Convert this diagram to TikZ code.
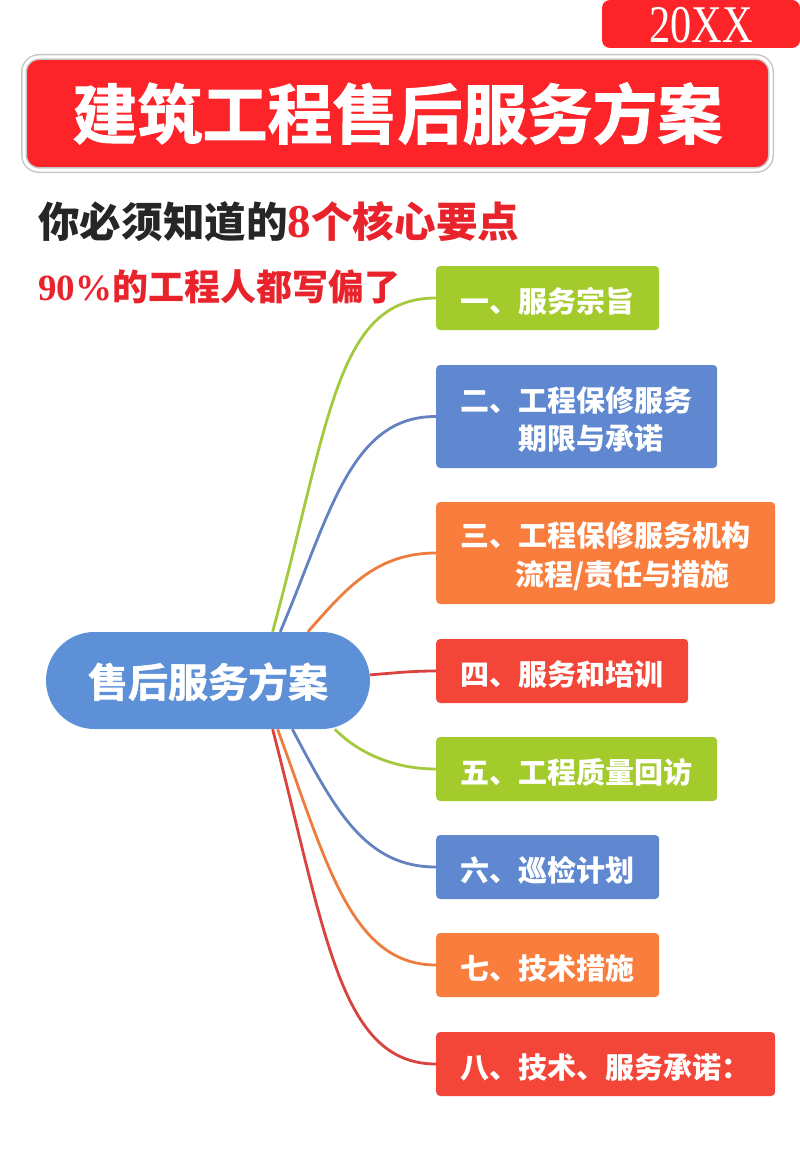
\documentclass[tikz,border=0pt]{standalone}
\usepackage{fontspec}
\setmainfont{Liberation Serif}
\newfontfamily\cjk{Noto Sans CJK SC}
\newfontfamily\cjkfat[FakeBold=1.5]{Noto Sans CJK SC Bold}
\definecolor{titlered}{HTML}{FC2428}
\definecolor{textred}{HTML}{E8232B}
\definecolor{hubblue}{HTML}{5E90D8}
\definecolor{boxgreen}{HTML}{A2CB2B}
\definecolor{boxblue}{HTML}{5F88D0}
\definecolor{boxorange}{HTML}{F97E3E}
\definecolor{boxred}{HTML}{F44638}
\definecolor{linegreen}{HTML}{A5C93D}
\definecolor{lineblue}{HTML}{6482C0}
\definecolor{lineorange}{HTML}{ED7D3C}
\definecolor{linered}{HTML}{D9423E}
\tikzset{
  itembox/.style={rectangle, rounded corners=4pt, anchor=west, inner xsep=24pt, inner ysep=0pt,
    align=left, text=white, font=\cjk\bfseries\fontsize{29}{38.5}\selectfont,
    execute at begin node=\rule{0pt}{31pt}},
  branch/.style={line width=2.8pt}
}
\begin{document}
\begin{tikzpicture}[x=1pt,y=-1pt]
	\useasboundingbox (0,0) rectangle (800,1156);
	% header
	\node[fill=titlered, rounded corners=8pt, minimum width=198pt, minimum height=48pt, inner sep=0pt] (tag) at (701,24) {};
	\node[text=white, xscale=0.8, transform shape, font=\fontsize{53}{53}\selectfont, inner sep=0pt] (year) at (701,25) {20XX};
	\node[fill=titlered, draw=black!22, line width=1.5pt, double=white, double distance=3pt, rounded corners=15pt,
		minimum width=747pt, minimum height=113pt, inner sep=0pt, text=white, font=\cjkfat\fontsize{65}{65}\selectfont] (title) at (397.5,113.5) {建筑工程售后服务方案};
	\node[anchor=west, inner sep=0pt, font=\cjk\bfseries\fontsize{41.6}{42}\selectfont] (sub) at (38,222)
		{\textcolor{black!85}{你必须知道的}\textcolor{textred}{{\rmfamily\bfseries\fontsize{47}{47}\selectfont 8}个核心要点}};
	\node[anchor=west, inner sep=0pt, text=textred, font=\cjk\bfseries\fontsize{36}{36}\selectfont] (warn) at (38,287)
		{{\rmfamily\bfseries\fontsize{37}{37}\selectfont 90\%}的工程人都写偏了};
	% centre and items
	\node[fill=hubblue, rounded corners=48.5pt, minimum width=324pt, minimum height=97pt, inner sep=0pt, text=white,
		font=\cjkfat\fontsize{40}{40}\selectfont, text height=37pt] (hub) at (208,680.5) {售后服务方案};
	\foreach \n/\ymid/\wid/\high/\col/\txt in {
		1/298/175/64/boxgreen/{一、服务宗旨},
		2/416.5/233/103/boxblue/{二、工程保修服务\\\hspace*{58pt}期限与承诺},
		3/553/291/102/boxorange/{三、工程保修服务机构\\\hspace*{55pt}流程/责任与措施},
		4/671/204/64/boxred/{四、服务和培训},
		5/769/233/64/boxgreen/{五、工程质量回访},
		6/867/175/64/boxblue/{六、巡检计划},
		7/965/175/64/boxorange/{七、技术措施},
		8/1064/291/64/boxred/{八、技术、服务承诺：}} {
			\node[itembox, fill=\col, text width=\wid pt, minimum height=\high pt] (box\n) at (436,\ymid) {\txt};
		}
	% branches
	\foreach \n/\ang/\cola/\colb/\col in {
		1/37.6/{(330,420)}/{(336,298)}/linegreen,
		2/34.3/{(330,515)}/{(350,416)}/lineblue,
		3/26.1/{(345,590)}/{(375,553)}/lineorange,
		4/2.7/{(395,673)}/{(410,671)}/linered,
		5/-21.8/{(355,750)}/{(390,769)}/linegreen,
		6/-30.3/{(335,810)}/{(365,867)}/lineblue,
		7/-35.1/{(326,860)}/{(350,965)}/lineorange,
		8/-37.6/{(326,935)}/{(340,1064)}/linered} {
			\draw[branch, \col] (hub.\ang) .. controls \cola and \colb .. (box\n.west);
		}
\end{tikzpicture}
\end{document}
